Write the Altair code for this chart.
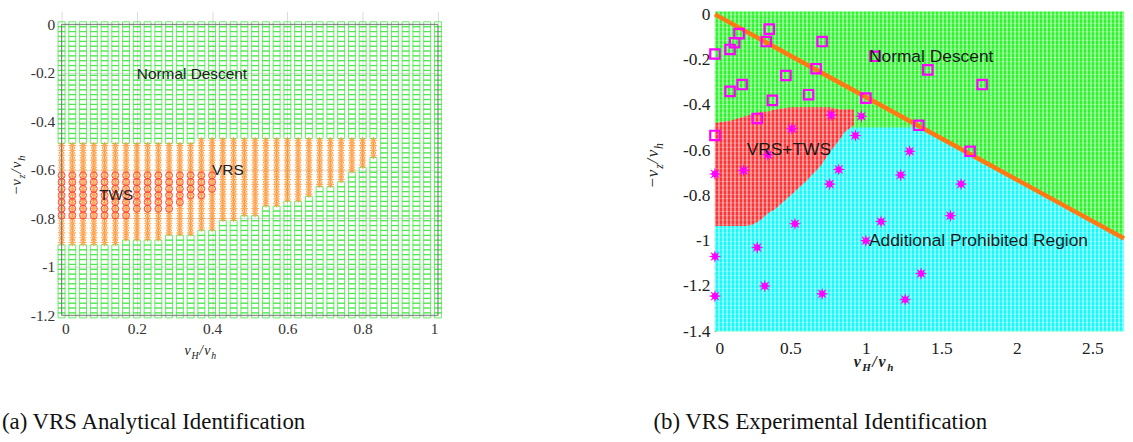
import math
import altair as alt
import pandas as pd

# ---------------- (a) analytical identification ----------------
A_N_COLS = 36                 # marker columns over vH/vh in [0, 1]
A_COL_STEP = 1 / 35
A_N_ROWS = 61                 # marker rows over -vz/vh in [-1.2, 0]
A_ROW_STEP = 0.02

# lower edge of the VRS band, piecewise constant in vH/vh
VRS_EDGE_X = [0.0, 0.16, 0.27, 0.36, 0.415, 0.47, 0.53, 0.585, 0.645, 0.67, 0.73, 0.76, 0.785, 0.815, 0.845]
VRS_EDGE_Y = [-0.91, -0.89, -0.86, -0.84, -0.81, -0.78, -0.75, -0.73, -0.70, -0.66, -0.64, -0.61, -0.58, -0.54]
VRS_TOP_SPLIT = 0.36
VRS_TOP = [-0.50, -0.47]

# turbulent wake state: circles per column, starting at TWS_TOP
TWS_TOP = -0.623
TWS_ROW_STEP = 0.0275
TWS_COUNTS = [7, 7, 7, 7, 7, 7, 7, 6, 6, 6, 6, 5, 4, 4, 3]

A_LABELS = ["Normal Descent", "VRS", "TWS"]
A_LABEL_X = [0.20, 0.40, 0.10]
A_LABEL_Y = [-0.205, -0.60, -0.705]

A_XTICKS = [0, 0.2, 0.4, 0.6, 0.8, 1]
A_YTICKS = [0, -0.2, -0.4, -0.6, -0.8, -1, -1.2]

# ---------------- (b) experimental identification ----------------
B_X_MAX = 2.71
B_Y_TOP = 0.013

LINE_X = [0.0, 2.71]
LINE_Y = [0.0, -0.99]

CYAN_X = [0.0, 1.37, 2.71]
CYAN_TOP = [-0.50, -0.50, -0.99]

RED_X = [0.0, 0.1, 0.2, 0.25, 0.3, 0.35, 0.4, 0.5, 0.6, 0.7, 0.76, 0.83, 0.86, 0.92]
RED_TOP = [-0.48, -0.47, -0.45, -0.44, -0.43, -0.43, -0.42, -0.41, -0.41, -0.41, -0.41, -0.42, -0.42, -0.42]
RED_BOTTOM = [-0.935, -0.935, -0.935, -0.93, -0.91, -0.88, -0.86, -0.80, -0.74, -0.67, -0.61, -0.55, -0.52, -0.49]

SQ_X = [0.0, 0.10, 0.13, 0.16, 0.36, 0.34, 0.71, 0.67, 0.47, 0.18, 0.10, 0.38, 0.62, 1.0,
        0.28, 0.0, 1.35, 1.06, 1.41, 1.77, 1.69]
SQ_Y = [-0.175, -0.155, -0.125, -0.085, -0.065, -0.12, -0.12, -0.24, -0.27, -0.31, -0.34, -0.38,
        -0.355, -0.37, -0.46, -0.535, -0.49, -0.185, -0.245, -0.31, -0.605]

ST_X = [0.77, 0.97, 0.51, 0.93, 0.35, 1.29, 0.0, 0.19, 0.82, 0.76, 1.23, 0.53, 1.10, 1.0,
        0.28, 0.0, 0.33, 0.71, 0.0, 1.365, 1.26, 1.63, 1.56]
ST_Y = [-0.445, -0.45, -0.505, -0.535, -0.62, -0.605, -0.705, -0.69, -0.685, -0.75, -0.71, -0.925,
        -0.915, -1.0, -1.03, -1.07, -1.2, -1.235, -1.245, -1.145, -1.26, -0.75, -0.89]

B_LABELS = ["Normal Descent", "VRS+TWS", "Additional Prohibited Region"]
B_LABEL_X = [1.02, 0.21, 1.02]
B_LABEL_Y = [-0.19, -0.60, -1.0]

B_XTICKS = [0, 0.5, 1, 1.5, 2, 2.5]
B_YTICKS = [0, -0.2, -0.4, -0.6, -0.8, -1, -1.2, -1.4]

# ---------------- styling ----------------
SERIF = "Liberation Serif"
SANS = "Liberation Sans"
GREEN_A = "#2be52b"
ORANGE_A = "#ff8a1c"
RED_A = "#ff3a3a"
GREEN_B = "#2cf52c"
CYAN_B = "#14fafa"
RED_B = "#ff3333"
MAGENTA = "#ff00ff"
ORANGE_LINE = "#ff7a12"

RECT_PATH = "M-1,-0.75H1V0.75H-1Z"
ASTER_PATH = "M-1,0H1M0,-1V1M-0.7,-0.7L0.7,0.7M-0.7,0.7L0.7,-0.7"
STAR_PATH = "M" + "L".join(
    f"{(1 if k % 2 == 0 else 0.42) * math.cos(k * math.pi / 8 - math.pi / 2):.3f},"
    f"{(1 if k % 2 == 0 else 0.42) * math.sin(k * math.pi / 8 - math.pi / 2):.3f}"
    for k in range(16)
) + "Z"

LABEL_EXPR = "'' + datum.value"


def math_title(parts, x, y, size, angle=0, weight="normal"):
    """Italic symbol with subscripts, laid out piece by piece along its baseline."""
    widths = {"v": 0.50, "H": 0.80, "h": 0.56, "z": 0.46, "/": 0.36, "−": 0.66}
    if weight == "bold":
        widths = {k: v * 1.1 for k, v in widths.items()}
    sizes = [size * 0.7 if sub else size for _, sub in parts]
    total = sum(widths[t] * s for (t, _), s in zip(parts, sizes))
    off = -total / 2
    out = []
    for (t, sub), s in zip(parts, sizes):
        out.append(
            alt.Chart().mark_text(
                text=t, font=SERIF, fontStyle="italic", fontWeight=weight, fontSize=s,
                align="left", baseline="alphabetic", angle=angle, dx=off,
                dy=size * 0.35 + (size * 0.28 if sub else 0), color="#222",
            ).encode(x=alt.value(x), y=alt.value(y))
        )
        off += widths[t] * s
    return out


# ---------------- panel (a) ----------------
green_cells, orange_cells = [], []
for i in range(A_N_COLS):
    x = i * A_COL_STEP
    bottom = None
    for k in range(len(VRS_EDGE_Y)):
        if VRS_EDGE_X[k] <= x < VRS_EDGE_X[k + 1]:
            bottom = VRS_EDGE_Y[k]
    top = VRS_TOP[0] if x < VRS_TOP_SPLIT else VRS_TOP[1]
    for r in range(A_N_ROWS):
        y = -r * A_ROW_STEP
        if bottom is not None and bottom - 1e-9 <= y <= top + 1e-9:
            orange_cells.append({"x": x, "y": y})
        else:
            green_cells.append({"x": x, "y": y})

tws_cells = [
    {"x": i * A_COL_STEP, "y": TWS_TOP - j * TWS_ROW_STEP}
    for i, n in enumerate(TWS_COUNTS) for j in range(n)
]

a_x_scale = alt.Scale(domain=[0, 1], nice=False, zero=False)
a_y_scale = alt.Scale(domain=[-1.2, 0.0533], nice=False, zero=False)
a_x_axis = alt.Axis(values=A_XTICKS, labelExpr=LABEL_EXPR, labelFont=SERIF, labelFontSize=15.5,
                    labelColor="#333", labelPadding=6, ticks=False, domain=False, grid=True,
                    gridColor="#dcdcdc", title=None)
a_y_axis = alt.Axis(values=A_YTICKS, labelExpr=LABEL_EXPR, labelFont=SERIF, labelFontSize=15.5,
                    labelColor="#333", labelPadding=7, ticks=False, domain=False, grid=True,
                    gridColor="#dcdcdc", title=None)


def ax(field="x"):
    return alt.X(f"{field}:Q", scale=a_x_scale, axis=a_x_axis)


def ay(field="y"):
    return alt.Y(f"{field}:Q", scale=a_y_scale, axis=a_y_axis)


a_green = alt.Chart(pd.DataFrame(green_cells)).mark_point(
    shape=RECT_PATH, size=49, filled=False, color=GREEN_A, strokeWidth=1, opacity=0.7
).encode(x=ax(), y=ay())

a_orange = alt.Chart(pd.DataFrame(orange_cells)).mark_point(
    shape=ASTER_PATH, size=56, filled=False, color=ORANGE_A, strokeWidth=1.1, opacity=0.72
).encode(x=ax(), y=ay())

a_red = alt.Chart(pd.DataFrame(tws_cells)).mark_point(
    shape="circle", size=49, filled=False, color=RED_A, strokeWidth=1, opacity=0.9
).encode(x=ax(), y=ay())

a_frame = alt.Chart(pd.DataFrame({"x": [0], "x2": [1], "y": [0], "y2": [-1.2]})).mark_rect(
    filled=False, stroke="#7a7a7a", strokeWidth=1
).encode(x=ax(), x2="x2", y=ay(), y2="y2")

a_text = alt.Chart(pd.DataFrame({"x": A_LABEL_X, "y": A_LABEL_Y, "t": A_LABELS})).mark_text(
    font=SANS, fontSize=15.5, align="left", baseline="middle", color="#222"
).encode(x=ax(), y=ay(), text="t:N")

# zero-opacity anchor that pins the top edge of the layout
a_anchor = alt.Chart().mark_text(text=".", opacity=0, baseline="top", fontSize=4).encode(
    x=alt.value(0), y=alt.value(-10)
)

panel_a = alt.layer(
    a_green, a_orange, a_red, a_frame, a_text, a_anchor,
    *math_title([("v", False), ("H", True), ("/", False), ("v", False), ("h", True)], 140, 341, 14),
    *math_title([("−", False), ("v", False), ("z", True), ("/", False), ("v", False), ("h", True)],
                -46, 165, 15, angle=270),
    alt.Chart().mark_text(text="(a) VRS Analytical Identification", font=SERIF, fontSize=23,
                          align="left", baseline="middle", color="#111")
    .encode(x=alt.value(-60), y=alt.value(413)),
).properties(width=379, height=306)

# ---------------- panel (b) ----------------
b_x_scale = alt.Scale(domain=[0, B_X_MAX], nice=False, zero=False)
b_y_scale = alt.Scale(domain=[-1.4, B_Y_TOP], nice=False, zero=False)
b_x_axis = alt.Axis(values=B_XTICKS, labelExpr=LABEL_EXPR, labelFont=SERIF, labelFontSize=17.5,
                    labelColor="#222", labelPadding=8, ticks=False, domain=False, grid=False, title=None)
b_y_axis = alt.Axis(values=B_YTICKS, labelExpr=LABEL_EXPR, labelFont=SERIF, labelFontSize=17.5,
                    labelColor="#222", labelPadding=5, ticks=False, domain=True, domainColor="#222",
                    domainDash=[4, 3], domainWidth=1.3, grid=False, title=None)


def bx(field="x"):
    return alt.X(f"{field}:Q", scale=b_x_scale, axis=b_x_axis)


def by(field="y"):
    return alt.Y(f"{field}:Q", scale=b_y_scale, axis=b_y_axis)


b_green = alt.Chart(pd.DataFrame({"x": [0], "x2": [B_X_MAX], "y": [-1.4], "y2": [B_Y_TOP]})).mark_rect(
    color=GREEN_B
).encode(x=bx(), x2="x2", y=by(), y2="y2")

b_cyan = alt.Chart(pd.DataFrame({"x": CYAN_X, "y": [-1.4] * len(CYAN_X), "y2": CYAN_TOP})).mark_area(
    color=CYAN_B, opacity=1
).encode(x=bx(), y=by(), y2="y2")

b_red = alt.Chart(pd.DataFrame({"x": RED_X, "y": RED_BOTTOM, "y2": RED_TOP})).mark_area(
    color=RED_B, opacity=1
).encode(x=bx(), y=by(), y2="y2")

# white speckle of the dense marker grid
v_step, h_step = 0.0265, 0.0189
tex_v = pd.DataFrame({"x": [i * v_step for i in range(int(B_X_MAX / v_step) + 1)]})
tex_h = pd.DataFrame({"y": [-1.4 + i * h_step for i in range(int((1.4 + B_Y_TOP) / h_step) + 1)]})
b_tex_v = alt.Chart(tex_v).mark_rule(color="white", strokeWidth=1.6, opacity=0.55).encode(x=bx())
b_tex_h = alt.Chart(tex_h).mark_rule(color="white", strokeWidth=1, opacity=0.3).encode(y=by())

b_line = alt.Chart(pd.DataFrame({"x": LINE_X, "y": LINE_Y})).mark_line(
    color=ORANGE_LINE, strokeWidth=4.5
).encode(x=bx(), y=by())

b_sq = alt.Chart(pd.DataFrame({"x": SQ_X, "y": SQ_Y})).mark_point(
    shape="square", size=90, filled=False, color=MAGENTA, strokeWidth=2.2, opacity=1
).encode(x=bx(), y=by())

b_st = alt.Chart(pd.DataFrame({"x": ST_X, "y": ST_Y})).mark_point(
    shape=STAR_PATH, size=169, filled=True, color=MAGENTA, opacity=1
).encode(x=bx(), y=by())

b_text = alt.Chart(pd.DataFrame({"x": B_LABEL_X, "y": B_LABEL_Y, "t": B_LABELS})).mark_text(
    font=SANS, fontSize=17.5, align="left", baseline="middle", color="#1a1a1a"
).encode(x=bx(), y=by(), text="t:N")

panel_b = alt.layer(
    b_green, b_cyan, b_red, b_tex_v, b_tex_h, b_line, b_sq, b_st, b_text,
    *math_title([("v", False), ("H", True), ("/", False), ("v", False), ("h", True)], 160, 352, 16,
                weight="bold"),
    *math_title([("−", False), ("v", False), ("z", True), ("/", False), ("v", False), ("h", True)],
                -63, 155, 17, angle=270),
    alt.Chart().mark_text(text="(b) VRS Experimental Identification", font=SERIF, fontSize=23,
                          align="left", baseline="middle", color="#111")
    .encode(x=alt.value(-62), y=alt.value(413)),
).properties(width=412, height=322)

chart = alt.hconcat(panel_a, panel_b, spacing=279, bounds="flush").properties(
    padding={"left": 2, "top": 0, "right": 0, "bottom": 0},
    background="white",
).configure_view(stroke=None)

chart.save("out.html", embed_options={"renderer": "svg", "actions": False})
